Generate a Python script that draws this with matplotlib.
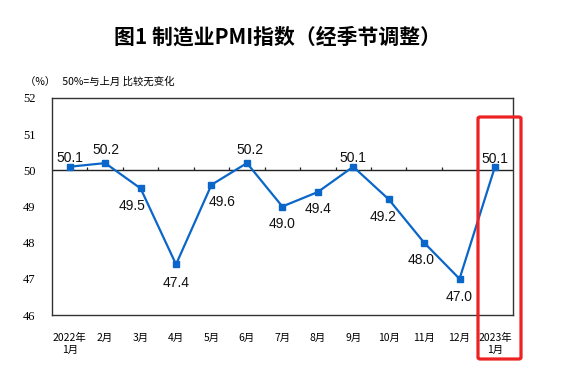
import matplotlib
matplotlib.use("Agg")
import matplotlib.pyplot as plt
from matplotlib.patches import FancyBboxPatch

plt.rcParams['font.family'] = ['Noto Sans CJK SC', 'DejaVu Sans']

categories = ["2022年\n1月", "2月", "3月", "4月", "5月", "6月", "7月", "8月",
              "9月", "10月", "11月", "12月", "2023年\n1月"]
pmi = [50.1, 50.2, 49.5, 47.4, 49.6, 50.2, 49.0, 49.4, 50.1, 49.2, 48.0, 47.0, 50.1]
yticks = [46, 47, 48, 49, 50, 51, 52]
# label offsets in pixels (dx, dy)
label_offsets = [(0, 9), (1, 13), (-9, -18), (0, -19), (11, -17), (3, 13), (0, -17),
                 (0, -17), (0, 9), (-6, -18), (-3, -17), (0, -18), (0, 8)]

W, H = 561, 375
fig = plt.figure(figsize=(W / 100, H / 100), dpi=100)
ax = fig.add_axes([52 / W, 1 - 315 / H, 460.7 / W, 217 / H])

x = list(range(len(categories)))
ax.plot(x, pmi, color='#0A66C8', lw=1.6, marker='s', markersize=4.5, zorder=3)

for xi, v, (dx, dy) in zip(x, pmi, label_offsets):
    ax.annotate(f"{v:.1f}", (xi, v), xytext=(dx, dy), textcoords='offset pixels',
                ha='center', va='center', fontsize=10, family='Liberation Sans',
                color='#111111')

ax.set_xlim(-0.5, len(categories) - 0.5)
ax.set_ylim(yticks[0], yticks[-1])
ax.set_yticks(yticks)
ax.set_yticklabels([str(t) for t in yticks], family='Liberation Serif', fontsize=9)
ax.set_xticks(x)
ax.set_xticklabels(categories, fontsize=7.5, linespacing=1.25)
ax.tick_params(axis='x', length=0, pad=13)
ax.tick_params(axis='y', length=0, pad=12)

# 50% reference line with category boundary ticks
ax.axhline(50, color='#222222', lw=1.0, zorder=2)
tick_h = 3 / 36.2
ax.vlines([i + 0.5 for i in x[:-1]], 50, 50 + tick_h, color='#222222', lw=0.9, zorder=2)

for s in ax.spines.values():
    s.set_color('#333333')
    s.set_linewidth(1.0)

fig.text(277 / W, 1 - 37 / H, "图1 制造业PMI指数（经季节调整）", ha='center', va='center',
         fontsize=15, fontweight='bold')
fig.text(25 / W, 1 - 82 / H, "（%）   50%=与上月 比较无变化", ha='left', va='center',
         fontsize=7.5)

rect = FancyBboxPatch((478 / W, 1 - 359 / H), 43 / W, 242 / H,
                      boxstyle="round,pad=0,rounding_size=0.004",
                      transform=fig.transFigure, fill=False, edgecolor='#EE2222',
                      lw=2.3, zorder=10)
fig.patches.append(rect)

fig.savefig("out.png", dpi=100)
